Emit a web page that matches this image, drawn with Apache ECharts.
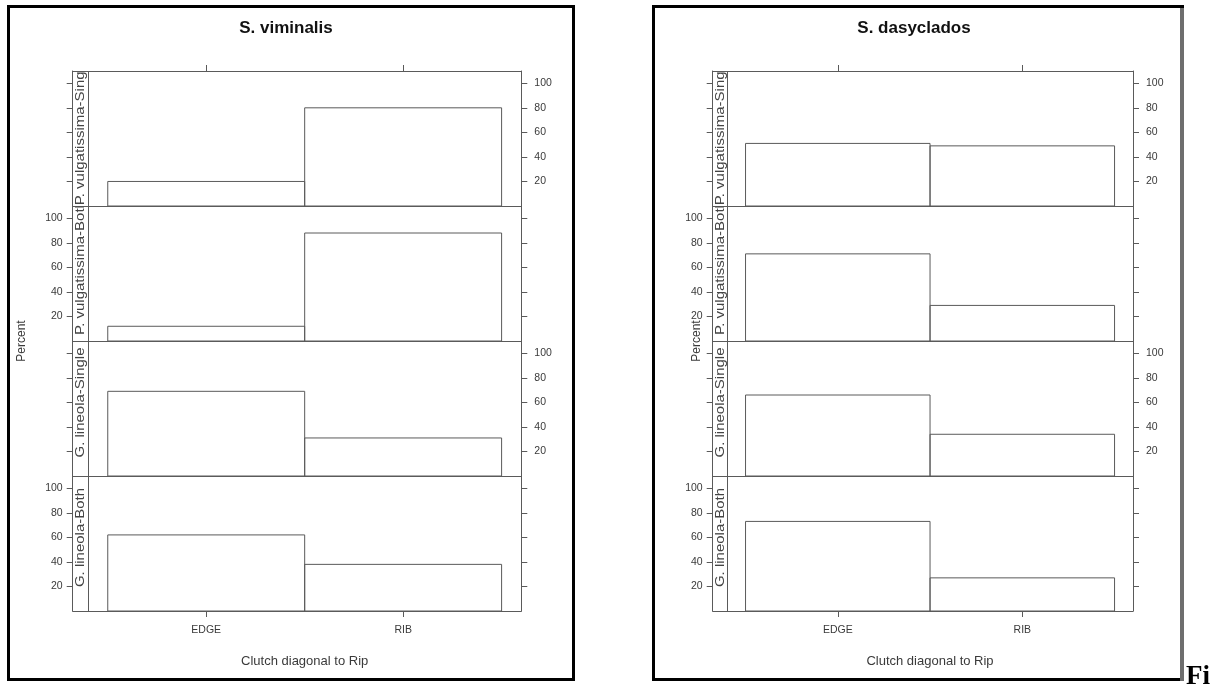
<!DOCTYPE html>
<html>
<head>
<meta charset="utf-8">
<script src="https://cdn.jsdelivr.net/npm/echarts@6/dist/echarts.min.js"></script>
<style>
  html, body { margin: 0; padding: 0; background: #fff; }
  #chart { width: 1213px; height: 684px; }
</style>
</head>
<body>
<div id="chart"></div>
<script>
// 数据：类别、面板（从上到下）、两个物种的百分比
const categories = ['EDGE', 'RIB']
const panelNames = ['P. vulgatissima-Single', 'P. vulgatissima-Both', 'G. lineola-Single', 'G. lineola-Both']
const viminalisEdge = [20, 12, 69, 62]
const viminalisRib = [80, 88, 31, 38]
const dasycladosEdge = [51, 71, 66, 73]
const dasycladosRib = [49, 29, 34, 27]
const yTicks = [20, 40, 60, 80, 100]

// 样式/布局
const LINE = '#5a5a5a'
const TXT = '#3a3a3a'
const SANS = '"Liberation Sans", Arial, sans-serif'
const X_MIN = 0.322, X_MAX = 2.6
const Y_MIN = 0, Y_MAX = 110
const PANEL_TOP = 71, PANEL_BOTTOM = 611
const PANEL_H = (PANEL_BOTTOM - PANEL_TOP) / 4

const plots = [
  { title: 'S. viminalis', edge: viminalisEdge, rib: viminalisRib,
    left: 72.7, stripRight: 88, right: 521.3, titleX: 286, percentX: 22,
    frame: [7, 5, 575, 681] },
  { title: 'S. dasyclados', edge: dasycladosEdge, rib: dasycladosRib,
    left: 712.7, stripRight: 727, right: 1133, titleX: 914, percentX: 697,
    frame: [652, 5, 1184, 681] }
]

const grid = [], xAxis = [], yAxis = [], series = [], graphic = []

function xAx(gi, pos, showTick, showLabel) {
  return {
    type: 'value', gridIndex: gi, position: pos, min: X_MIN, max: X_MAX,
    axisLine: { show: true, onZero: false, lineStyle: { color: LINE, width: 1 } },
    axisTick: { show: showTick, length: 6, customValues: categories.map((c, i) => i + 1), lineStyle: { color: LINE } },
    axisLabel: { show: showLabel, customValues: categories.map((c, i) => i + 1), margin: 14,
      formatter: v => categories[Math.round(v) - 1] || '', color: TXT, fontSize: 10.5, fontFamily: SANS },
    splitLine: { show: false }
  }
}

function yAx(gi, pos, showLabel) {
  return {
    type: 'value', gridIndex: gi, position: pos, min: Y_MIN, max: Y_MAX,
    axisLine: { show: true, onZero: false, lineStyle: { color: LINE, width: 1 } },
    axisTick: { show: true, length: 6, customValues: yTicks, lineStyle: { color: LINE } },
    axisLabel: { show: showLabel, customValues: yTicks, margin: pos === 'left' ? 10 : 13,
      color: TXT, fontSize: 10.5, fontFamily: SANS },
    splitLine: { show: false }
  }
}

function renderBar(params, api) {
  const x = api.value(0), v = api.value(1)
  const p0 = api.coord([x - 0.5, v])
  const p1 = api.coord([x + 0.5, 0])
  return {
    type: 'rect',
    shape: { x: p0[0], y: p0[1], width: p1[0] - p0[0], height: p1[1] - p0[1] },
    style: { fill: 'none', stroke: LINE, lineWidth: 1 }
  }
}

plots.forEach((pl, pi) => {
  const f = pl.frame
  // 外框
  graphic.push({ type: 'rect', z: 1, shape: { x: f[0] + 1.5, y: f[1] + 1.5, width: f[2] - f[0] - 3, height: f[3] - f[1] - 3 },
    style: { fill: 'none', stroke: '#000', lineWidth: 3 } })
  if (pi === 1) {
    graphic.push({ type: 'rect', z: 2, shape: { x: f[2] - 4, y: f[1] + 3, width: 4, height: f[3] - f[1] - 3 },
      style: { fill: '#6e6e6e' } })
  }
  graphic.push({ type: 'text', x: pl.titleX, y: 28, style: { text: pl.title, font: 'bold 17px ' + SANS,
    fill: '#111', align: 'center', verticalAlign: 'middle' } })
  graphic.push({ type: 'text', x: pl.percentX, y: 341, rotation: Math.PI / 2, style: { text: 'Percent',
    font: '12px ' + SANS, fill: TXT, align: 'center', verticalAlign: 'middle' } })
  graphic.push({ type: 'text', x: (pl.stripRight + pl.right) / 2, y: 661, style: { text: 'Clutch diagonal to Rip',
    font: '13px ' + SANS, fill: TXT, align: 'center', verticalAlign: 'middle' } })

  panelNames.forEach((name, k) => {
    const gi = grid.length
    const top = PANEL_TOP + k * PANEL_H
    grid.push({ left: pl.left, top: top, width: pl.right - pl.left, height: PANEL_H })
    xAxis.push(xAx(gi, 'bottom', k === 3, k === 3))
    xAxis.push(xAx(gi, 'top', k === 0, false))
    yAxis.push(yAx(gi, 'left', k % 2 === 1))
    yAxis.push(yAx(gi, 'right', k % 2 === 0))
    series.push({
      type: 'custom', xAxisIndex: gi * 2, yAxisIndex: gi * 2, renderItem: renderBar, silent: true,
      data: categories.map((c, i) => [i + 1, (i === 0 ? pl.edge : pl.rib)[k]])
    })
    // 左侧条带分隔线
    graphic.push({ type: 'line', z: 5, shape: { x1: pl.stripRight + 0.5, y1: top, x2: pl.stripRight + 0.5, y2: top + PANEL_H },
      style: { stroke: LINE, lineWidth: 1 } })
  })

  // 条带文字：居中并裁剪到条带范围内
  series.push({
    type: 'custom', coordinateSystem: 'none', silent: true, z: 5,
    data: panelNames.map((n, k) => [k]),
    renderItem: (params, api) => {
      const k = api.value(0)
      const top = PANEL_TOP + k * PANEL_H
      return {
        type: 'group',
        clipPath: { type: 'rect', shape: { x: pl.left, y: top + 0.5, width: pl.stripRight - pl.left, height: PANEL_H - 1 } },
        children: [{
          type: 'text', x: (pl.left + pl.stripRight) / 2 + 0.5, y: top + PANEL_H / 2 - 6,
          rotation: Math.PI / 2, scaleY: 0.85,
          style: { text: panelNames[k], font: '15px ' + SANS, fill: '#444', align: 'center', verticalAlign: 'middle' }
        }]
      }
    }
  })
})

graphic.push({ type: 'text', x: 1186, y: 664, style: { text: 'Fi', font: 'bold 27px "Liberation Serif", "Times New Roman", serif',
  fill: '#000', align: 'left', verticalAlign: 'top' } })

const chart = echarts.init(document.getElementById('chart'), null, { renderer: 'canvas' })
chart.setOption({
  animation: false,
  backgroundColor: '#fff',
  grid, xAxis, yAxis, series, graphic
})
</script>
</body>
</html>
